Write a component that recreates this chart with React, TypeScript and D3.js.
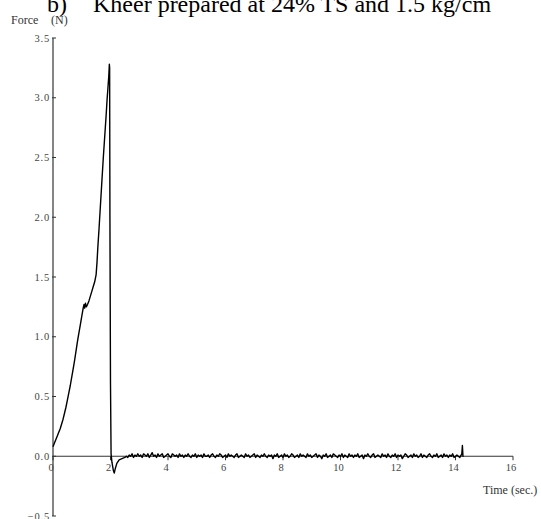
import React, { useEffect, useRef } from "react";
import * as d3 from "d3";

// loading phase (time in s, force in N)
const riseTime = [
  0.0, 0.05, 0.1, 0.15, 0.2, 0.25, 0.3, 0.35, 0.4, 0.45, 0.5, 0.55, 0.6, 0.65, 0.7, 0.75, 0.8,
  0.85, 0.9, 0.95, 1.0, 1.05, 1.08, 1.1, 1.13, 1.16, 1.2, 1.25, 1.3, 1.35, 1.4, 1.45, 1.5, 1.53,
  1.56, 1.6, 1.65, 1.7, 1.75, 1.8, 1.85, 1.88, 1.91, 1.94, 1.96, 1.97, 1.98, 2.0, 2.02, 2.05,
  2.1, 2.13, 2.17, 2.22, 2.3, 2.4, 2.5,
];
const riseForce = [
  0.08, 0.11, 0.14, 0.17, 0.2, 0.23, 0.27, 0.31, 0.36, 0.41, 0.47, 0.53, 0.59, 0.66, 0.73, 0.8, 0.88,
  0.96, 1.03, 1.1, 1.17, 1.24, 1.27, 1.24, 1.28, 1.25, 1.27, 1.3, 1.34, 1.38, 1.42, 1.46, 1.52, 1.62,
  1.75, 1.9, 2.1, 2.3, 2.5, 2.68, 2.86, 2.98, 3.08, 3.18, 3.28, 3.25, 2.0, 0.6, 0.02, -0.05,
  -0.12, -0.14, -0.1, -0.06, -0.03, -0.02, -0.01,
];

// relaxation phase, sampled every 0.05 s from 2.55 s (values in N)
const flatStart = 2.55;
const flatStep = 0.05;
const flatForce = [
  0.0, -0.01, 0.01, 0.0, 0.02, -0.01, 0.01, 0.0, 0.02, 0.0, 0.01, -0.01, 0.02, 0.01, 0.0, 0.02, -0.01, 0.01, 0.03, 0.0,
  0.01, -0.01, 0.02, 0.0, 0.01, 0.02, -0.01, 0.0, 0.01, 0.02, 0.0, -0.01, 0.02, 0.01, 0.0, 0.01, -0.01, 0.02, 0.0, 0.01,
  -0.01, 0.01, 0.0, 0.02, 0.0, -0.01, 0.01, 0.0, 0.02, -0.01, 0.01, 0.0, 0.01, -0.01, 0.02, 0.0, 0.0, 0.01, -0.01, 0.01,
  0.02, 0.0, -0.01, 0.01, 0.0, 0.02, 0.01, -0.01, 0.0, 0.01, -0.01, 0.02, 0.0, 0.01, 0.0, -0.01, 0.01, 0.02, -0.01, 0.0,
  0.01, 0.0, -0.01, 0.02, 0.0, 0.01, -0.01, 0.0, 0.01, 0.02, -0.01, 0.01, 0.0, -0.01, 0.01, 0.0, 0.02, 0.0, -0.01, 0.01,
  0.0, 0.01, -0.02, 0.01, 0.0, 0.02, -0.01, 0.0, 0.01, -0.01, 0.02, 0.0, 0.01, -0.01, 0.0, 0.02, 0.01, -0.01, 0.0, 0.01,
  -0.01, 0.02, 0.0, 0.01, 0.0, -0.01, 0.02, 0.0, 0.01, -0.01, 0.0, 0.01, 0.02, -0.01, 0.01, 0.0, -0.02, 0.01, 0.0, 0.02,
  -0.01, 0.0, 0.01, -0.01, 0.02, 0.01, 0.0, -0.01, 0.01, 0.0, 0.02, -0.01, 0.01, 0.0, -0.01, 0.02, 0.0, 0.01, -0.01, 0.01,
  0.0, 0.02, -0.01, 0.0, 0.01, -0.02, 0.01, 0.0, 0.02, 0.0, -0.01, 0.01, 0.02, -0.01, 0.0, 0.01, 0.0, -0.01, 0.02, 0.0,
  0.01, -0.01, 0.02, 0.0, -0.01, 0.01, 0.0, 0.02, -0.01, 0.01, 0.0, 0.01, -0.02, 0.0, 0.02, 0.01, -0.01, 0.0, 0.01, -0.01,
  0.02, 0.0, 0.01, -0.01, 0.0, 0.02, -0.01, 0.01, 0.0, -0.01, 0.01, 0.02, 0.0, -0.01, 0.01, 0.0, 0.02, -0.01, 0.0, 0.01,
  -0.01, 0.02, 0.0, 0.01, -0.01, 0.01, 0.0, 0.02, -0.01, 0.0, 0.01, 0.0, -0.01,
];
// small spike at the end of the test
const endTime = [14.22, 14.24, 14.26, 14.28];
const endForce = [0.02, 0.09, 0.0, 0.0];

const xTicks = [0, 2, 4, 6, 8, 10, 12, 14, 16];
const yTicks = [-0.5, 0.0, 0.5, 1.0, 1.5, 2.0, 2.5, 3.0, 3.5];

const W = 541;
const H = 519;

export default function App() {
  const ref = useRef<SVGSVGElement>(null);

  useEffect(() => {
    const svg = d3.select(ref.current);
    svg.selectAll("*").remove();

    const data: [number, number][] = [];
    riseTime.forEach((t, i) => data.push([t, riseForce[i]]));
    flatForce.forEach((f, i) => data.push([flatStart + i * flatStep, f]));
    endTime.forEach((t, i) => data.push([t, endForce[i]]));

    const x = d3.scaleLinear().domain([0, 16]).range([53, 513]);
    const y = d3.scaleLinear().domain([-0.5, 3.5]).range([516, 38]);

    const serif = "'Liberation Serif', 'DejaVu Serif', serif";

    // title (cut off at the top like the scan)
    svg.append("text").attr("x", 47).attr("y", 12).attr("font-family", serif)
      .attr("font-size", 24).text("b)");
    svg.append("text").attr("x", 93).attr("y", 12).attr("font-family", serif)
      .attr("font-size", 24).text("Kheer prepared at 24% TS and 1.5 kg/cm");

    // y axis
    svg.append("line")
      .attr("x1", x(0)).attr("x2", x(0))
      .attr("y1", y(3.5)).attr("y2", y(-0.5))
      .attr("stroke", "#333").attr("stroke-width", 1.2);
    svg.selectAll(".ytick").data(yTicks).join("line")
      .attr("class", "ytick")
      .attr("x1", x(0) - 1).attr("x2", x(0) + 3)
      .attr("y1", d => y(d)).attr("y2", d => y(d))
      .attr("stroke", "#333");
    svg.selectAll(".ylab").data(yTicks).join("text")
      .attr("class", "ylab")
      .attr("x", x(0) - 3).attr("y", d => y(d) + 3.5)
      .attr("text-anchor", "end")
      .attr("font-family", serif).attr("font-size", 10.5).attr("fill", "#444")
      .attr("letter-spacing", 0.8)
      .text(d => d3.format(".1f")(d));

    // x axis along zero
    svg.append("line")
      .attr("x1", x(0)).attr("x2", x(16))
      .attr("y1", y(0)).attr("y2", y(0))
      .attr("stroke", "#333").attr("stroke-width", 1.2);
    svg.selectAll(".xtick").data(xTicks).join("line")
      .attr("class", "xtick")
      .attr("x1", d => x(d)).attr("x2", d => x(d))
      .attr("y1", y(0)).attr("y2", y(0) + 4)
      .attr("stroke", "#333");
    svg.selectAll(".xlab").data(xTicks).join("text")
      .attr("class", "xlab")
      .attr("x", d => x(d) - 2).attr("y", y(0) + 15)
      .attr("text-anchor", "middle")
      .attr("font-family", serif).attr("font-size", 10.5).attr("fill", "#444")
      .text(d => d);

    // axis titles
    svg.append("text").attr("x", 11).attr("y", 24).attr("font-family", serif)
      .attr("font-size", 12).attr("fill", "#333").text("Force");
    svg.append("text").attr("x", 51).attr("y", 24).attr("font-family", serif)
      .attr("font-size", 12).attr("fill", "#333").text("(N)");
    svg.append("text").attr("x", 483).attr("y", 494).attr("font-family", serif)
      .attr("font-size", 12).attr("fill", "#333").text("Time (sec.)");

    const line = d3.line<[number, number]>()
      .x(d => x(d[0]))
      .y(d => y(d[1]));

    svg.append("path")
      .datum(data)
      .attr("d", line)
      .attr("fill", "none")
      .attr("stroke", "#000")
      .attr("stroke-width", 1.4)
      .attr("stroke-linejoin", "round");
  }, []);

  return (
    <svg
      ref={ref}
      width={W}
      height={H}
      style={{ position: "absolute", left: 0, top: 0, background: "#fff" }}
    ></svg>
  );
}
